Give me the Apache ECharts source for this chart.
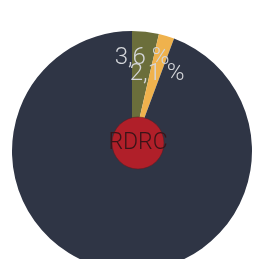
<!doctype html>
<html lang="en">
<head>
    <meta charset="UTF-8">
    <title>RDRC</title>
    <script src="https://cdn.jsdelivr.net/npm/echarts@6/dist/echarts.min.js"></script>
    <style>
        html, body { margin: 0; padding: 0; background: #fff; }
        #main { width: 270px; height: 259px; }
    </style>
</head>
<body>
<div id="main"></div>
<script>
    // slice names, values (percent) and colours
    var names = ['A', 'B', 'C'];
    var values = [3.6, 2.1, 94.3];
    var labels = ['3,6 %', '2,1 %', ''];
    var colors = ['#6b6e3b', '#efb24d', '#2f3545'];
    var centerText = 'RDRC';

    var myChart = echarts.init(document.getElementById('main'));

    var data = names.map(function (n, i) {
        return {
            name: n,
            value: values[i],
            itemStyle: {color: colors[i]},
            label: {show: labels[i] !== '', formatter: labels[i]}
        };
    });

    // push the labels outwards along the slice
    var labelShift = [[3, -30], [7, -17], [0, 0]];

    var option = {
        animation: false,
        series: [{
            type: 'pie',
            center: [132, 151],
            radius: 120,
            startAngle: 90,
            clockwise: true,
            silent: true,
            data: data,
            label: {
                position: 'inside',
                color: '#d4d6da',
                fontSize: 24,
                fontFamily: 'Roboto',
                fontWeight: 300
            },
            labelLine: {show: false},
            labelLayout: function (p) {
                var s = labelShift[p.dataIndex];
                return {dx: s[0], dy: s[1]};
            }
        }, {
            type: 'pie',
            center: [138, 143],
            radius: 26,
            silent: true,
            data: [{value: 1, name: centerText}],
            itemStyle: {color: '#b01f29', borderColor: '#5a1a20', borderWidth: 0.5},
            label: {
                position: 'center',
                formatter: centerText,
                color: '#3a1418',
                fontSize: 23,
                fontFamily: 'Roboto',
                fontWeight: 300
            },
            labelLine: {show: false}
        }]
    };
    myChart.setOption(option);
</script>
</body>
</html>
